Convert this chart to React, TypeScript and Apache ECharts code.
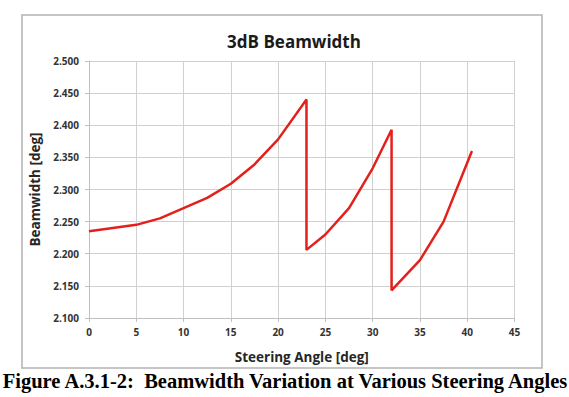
import React, { useEffect, useRef } from "react";
import * as echarts from "echarts";

const steeringAngles = [0, 2.5, 5, 7.5, 10, 12.5, 15, 17.5, 20, 23, 23, 25, 27.5, 30, 32, 32, 35, 37.5, 40.5];
const beamwidths = [2.235, 2.240, 2.245, 2.255, 2.271, 2.287, 2.309, 2.339, 2.378, 2.440, 2.206, 2.230, 2.271, 2.333, 2.393, 2.143, 2.190, 2.250, 2.360];

const chartTitle = "3dB Beamwidth";
const xAxisName = "Steering Angle [deg]";
const yAxisName = "Beamwidth [deg]";
const caption = "Figure A.3.1-2:  Beamwidth Variation at Various Steering Angles";

export default function App() {
  const ref = useRef<HTMLDivElement>(null);
  useEffect(() => {
    if (!ref.current) return;
    const chart = echarts.init(ref.current, undefined, { renderer: "svg" });
    const font = "'Open Sans', 'Noto Sans', sans-serif";
    const data = steeringAngles.map((a, i) => [a, beamwidths[i]]);
    chart.setOption({
      animation: false,
      backgroundColor: "#ffffff",
      title: {
        text: chartTitle,
        left: 289,
        textAlign: "center",
        top: 28,
        textStyle: { fontFamily: font, fontSize: 17, fontWeight: "bold", color: "#1a1a1a" },
      },
      grid: { left: 89, right: 54.5, top: 61, bottom: 79 },
      xAxis: {
        type: "value",
        min: 0,
        max: 45,
        interval: 5,
        name: xAxisName,
        nameLocation: "middle",
        nameGap: 32,
        nameTextStyle: { fontFamily: font, fontSize: 13.5, fontWeight: "bold", color: "#262626" },
        axisLine: { show: true, lineStyle: { color: "#bfbfbf", width: 1 } },
        axisTick: { show: true, length: 4, lineStyle: { color: "#bfbfbf" } },
        axisLabel: { fontFamily: font, fontSize: 10, fontWeight: "bold", color: "#333", margin: 9 },
        splitLine: { show: true, lineStyle: { color: "#d0d0d0", width: 1 } },
      },
      yAxis: {
        type: "value",
        min: 2.1,
        max: 2.5,
        interval: 0.05,
        name: yAxisName,
        nameLocation: "middle",
        nameGap: 41,
        nameTextStyle: { fontFamily: font, fontSize: 13.5, fontWeight: "bold", color: "#262626" },
        axisLine: { show: true, lineStyle: { color: "#bfbfbf", width: 1 } },
        axisTick: { show: true, length: 4, lineStyle: { color: "#bfbfbf" } },
        axisLabel: {
          fontFamily: font,
          fontSize: 10,
          fontWeight: "bold",
          color: "#333",
          margin: 10,
          formatter: (v: number) => v.toFixed(3),
        },
        splitLine: { show: true, lineStyle: { color: "#d0d0d0", width: 1 } },
      },
      graphic: [
        {
          type: "rect",
          shape: { x: 22, y: 15, width: 520, height: 353 },
          style: { fill: "none", stroke: "#b3b3b3", lineWidth: 1.5 },
          z: -1,
        },
        {
          type: "text",
          x: 285,
          y: 381,
          style: {
            text: caption,
            fontFamily: "'Liberation Serif', 'Times New Roman', serif",
            fontSize: 20.5,
            fontWeight: "bold",
            fill: "#000",
            textAlign: "center",
            textVerticalAlign: "middle",
          },
        },
      ],
      series: [
        {
          type: "line",
          data,
          showSymbol: false,
          smooth: false,
          lineStyle: { color: "#e3201b", width: 2.5 },
        },
      ],
    });
    return () => chart.dispose();
  }, []);
  return <div ref={ref} style={{ position: "fixed", left: 0, top: 0, width: 569, height: 397 }} />;
}
